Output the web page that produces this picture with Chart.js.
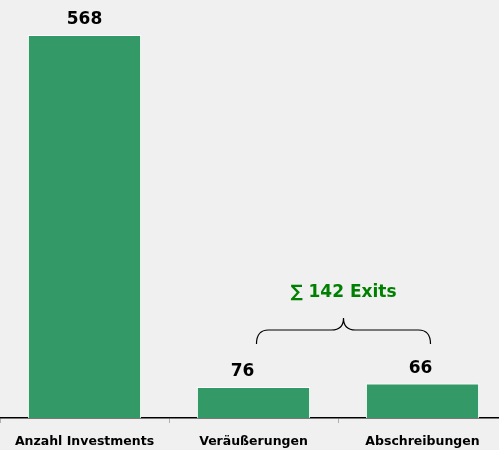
<!DOCTYPE html>
<html>
<head>
<meta charset="utf-8">
<script src="https://cdn.jsdelivr.net/npm/chart.js@4/dist/chart.umd.min.js"></script>
<style>
  html, body { margin: 0; padding: 0; background: #f0f0f0; overflow: hidden; }
  #wrap { position: relative; width: 507px; height: 466px; }
</style>
</head>
<body>
<div id="wrap"><canvas id="exitsChart"></canvas></div>
<script>
// categories and values
const categories = ["Anzahl Investments", "Veräußerungen", "Abschreibungen"];
const valueLabels = ["568", "76", "66"];
// bar heights as drawn in the picture (the small bars are not to scale)
const barHeights = [568, 46, 51];
const sumLabel = "\u2211 142 Exits";

// draws the value labels above the bars
const valueLabelPlugin = {
  id: "valueLabels",
  afterDatasetsDraw(chart) {
    const ctx = chart.ctx;
    const meta = chart.getDatasetMeta(0);
    const dx = [0, -11, -2];
    ctx.save();
    ctx.font = "bold 17px 'DejaVu Sans', Verdana, sans-serif";
    ctx.fillStyle = "#000000";
    ctx.textAlign = "center";
    ctx.textBaseline = "middle";
    meta.data.forEach((bar, i) => {
      ctx.fillText(valueLabels[i], bar.x + dx[i], bar.y - 15);
    });
    ctx.restore();
  }
};

// curly brace + sum text over the two exit bars
const bracePlugin = {
  id: "exitBrace",
  afterDatasetsDraw(chart) {
    const ctx = chart.ctx;
    const x = chart.scales.x;
    const left = x.getPixelForValue(1) + 3;
    const right = x.getPixelForValue(2) + 8;
    const mid = (left + right) / 2;
    const top = 318, bottom = 344, r = 12;
    const barY = top + r;

    ctx.save();
    ctx.strokeStyle = "#000000";
    ctx.lineWidth = 1.2;
    ctx.beginPath();
    ctx.moveTo(left, bottom);
    ctx.quadraticCurveTo(left, barY, left + r, barY);
    ctx.lineTo(mid - r, barY);
    ctx.quadraticCurveTo(mid, barY, mid, top);
    ctx.quadraticCurveTo(mid, barY, mid + r, barY);
    ctx.lineTo(right - r, barY);
    ctx.quadraticCurveTo(right, barY, right, bottom);
    ctx.stroke();

    ctx.font = "bold 17px 'DejaVu Sans', Verdana, sans-serif";
    ctx.fillStyle = "#008000";
    ctx.textAlign = "center";
    ctx.textBaseline = "middle";
    ctx.fillText(sumLabel, mid, 293);
    ctx.restore();
  }
};

new Chart(document.getElementById("exitsChart").getContext("2d"), {
  type: "bar",
  data: {
    labels: categories,
    datasets: [{
      data: barHeights,
      backgroundColor: "#339966",
      borderColor: "#ffffff",
      borderWidth: 1,
      borderSkipped: "bottom",
      categoryPercentage: 1,
      barPercentage: 0.67
    }]
  },
  options: {
    responsive: true,
    maintainAspectRatio: false,
    animation: false,
    layout: { padding: { top: 0, bottom: 6, left: 0, right: 0 } },
    plugins: {
      legend: { display: false },
      tooltip: { enabled: false }
    },
    scales: {
      y: {
        display: false,
        min: 0,
        max: 620
      },
      x: {
        border: { display: true, color: "#000000", width: 1.5 },
        grid: {
          offset: true,
          drawOnChartArea: false,
          drawTicks: true,
          tickLength: 5,
          color: "#b0b0b0"
        },
        ticks: {
          color: "#000000",
          padding: 11,
          maxRotation: 0,
          font: { family: "'DejaVu Sans', Verdana, sans-serif", size: 12.5, weight: "bold" }
        }
      }
    }
  },
  plugins: [valueLabelPlugin, bracePlugin]
});
</script>
</body>
</html>
